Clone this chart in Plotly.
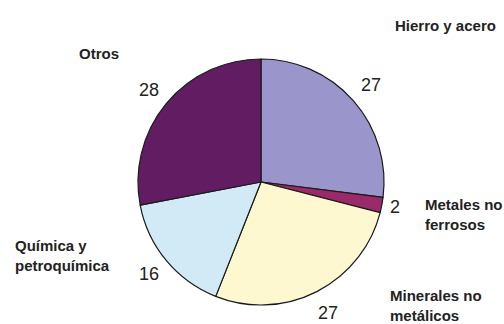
import math
import plotly.graph_objects as go

categories = ["Hierro y acero", "Metales no ferrosos", "Minerales no metálicos",
              "Química y petroquímica", "Otros"]
values = [27, 2, 27, 16, 28]
colors = ["#9a96cc", "#9b2a6a", "#fdf8cf", "#d2eaf5", "#621d62"]

W, H = 504, 324
CX, CY, R = 261, 182, 123  # pixel geometry of the pie

fig = go.Figure(go.Pie(
    labels=categories, values=values, sort=False, direction="clockwise",
    rotation=0, marker=dict(colors=colors, line=dict(color="#1a1a1a", width=1.2)),
    textinfo="none", hoverinfo="label+value",
    domain=dict(x=[(CX - R) / W, (CX + R) / W],
                y=[(H - CY - R) / H, (H - CY + R) / H]),
    showlegend=False,
))

# value labels placed around the pie from the slice mid-angles
label_r = [146, 136, 147, 145, 145]
total = sum(values)
cum = 0
annotations = []
for v, lr in zip(values, label_r):
    mid = (cum + v / 2) / total * 2 * math.pi
    cum += v
    px = CX + lr * math.sin(mid)
    py = CY - lr * math.cos(mid)
    annotations.append(dict(x=px / W, y=1 - py / H, xref="paper", yref="paper",
                            text=str(v), showarrow=False, xanchor="center", yanchor="middle",
                            font=dict(family="Liberation Sans, Arial", size=18, color="#222")))

# category labels
cat_labels = [
    ("Hierro y acero", 393, 25),
    ("Metales no<br>ferrosos", 423, 215),
    ("Minerales no<br>metálicos", 388, 305),
    ("Química y<br>petroquímica", 13, 255),
    ("Otros", 77, 54),
]
for t, px, py in cat_labels:
    annotations.append(dict(x=px / W, y=1 - py / H, xref="paper", yref="paper",
                            text="<b>" + t.replace("<br>", "</b><br><b>") + "</b>",
                            showarrow=False, xanchor="left",
                            yanchor="middle", align="left",
                            font=dict(family="Liberation Sans, Arial", size=15, color="#222")))

fig.update_layout(width=W, height=H, margin=dict(l=0, r=0, t=0, b=0),
                  paper_bgcolor="white", plot_bgcolor="white",
                  annotations=annotations)
fig.write_html("out.html")
